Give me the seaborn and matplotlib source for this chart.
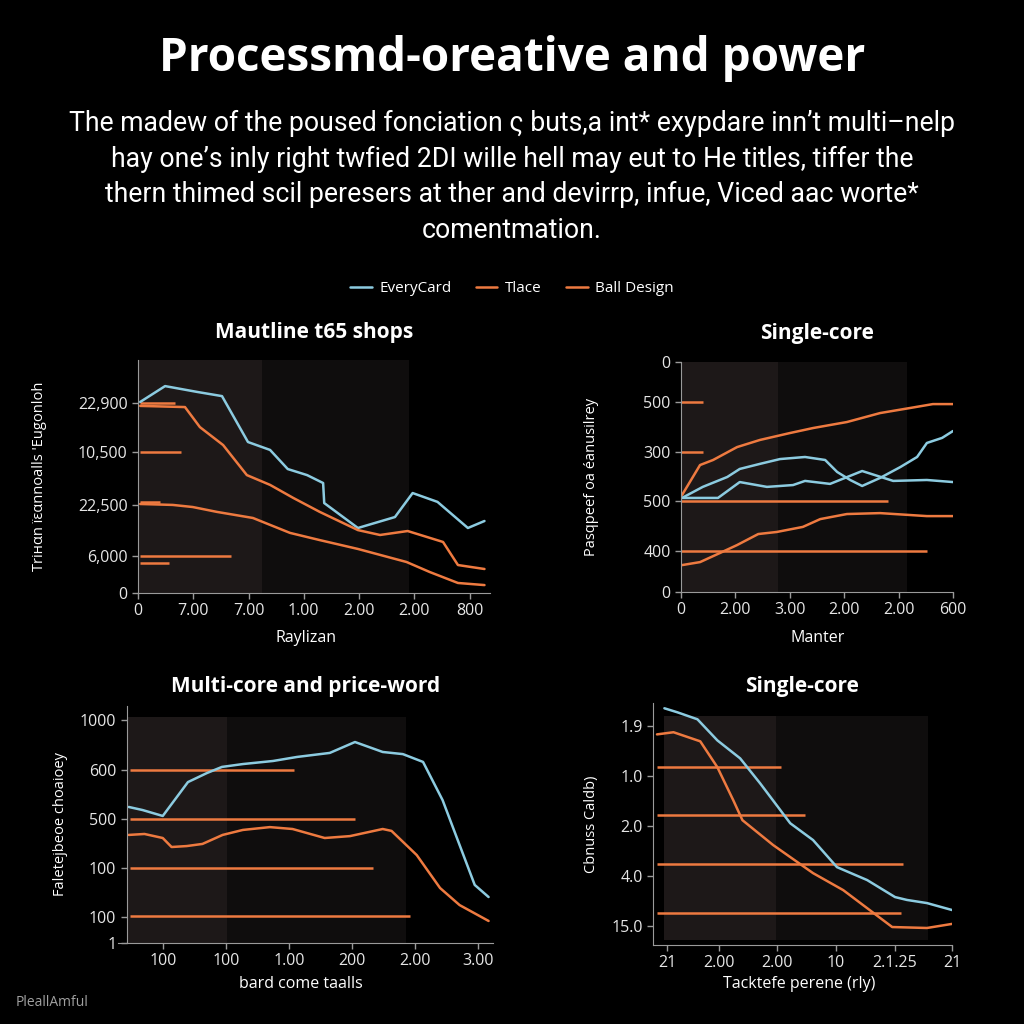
import pandas as pd
import matplotlib.pyplot as plt
import seaborn as sns

# colores
BLUE = "#8ccbe0"
ORANGE = "#ee7a40"
SHADE_LIGHT = "#1d1818"
SHADE_DARK = "#0f0d0d"
SPINE = "#9a9a9a"

titulo = "Processmd-oreative and power"
subtitulo = ("The madew of the poused fonciation \u03c2 buts,a int* exypdare inn\u2019t multi\u2013nelp\n"
             "hay one\u2019s inly right twfied 2DI wille hell may eut to He titles, tiffer the\n"
             "thern thimed scil peresers at ther and devirrp, infue, Viced aac worte*\n"
             "comentmation.")
series = ["EveryCard", "Tlace", "Ball Design"]

# --- panel 1
p1_blue_x = [0.04, 0.49, 1.07, 1.52, 1.99, 2.39, 2.71, 3.06, 3.35, 3.37, 3.98, 4.65, 4.97, 5.42, 5.97, 6.27]
p1_blue_y = [82.0, 88.8, 86.3, 84.5, 64.8, 61.4, 53.2, 50.6, 47.2, 38.6, 27.9, 32.6, 42.9, 39.1, 27.9, 30.9]
p1_or1_x = [0.04, 0.85, 1.12, 1.54, 1.97, 2.39, 2.81, 3.29, 3.98, 4.38, 4.88, 5.52, 5.79, 6.27]
p1_or1_y = [80.3, 79.8, 71.2, 63.5, 50.6, 46.4, 40.8, 34.8, 27.0, 24.9, 26.6, 21.9, 12.0, 10.3]
p1_or2_x = [0.04, 0.63, 0.99, 1.43, 2.08, 2.75, 3.29, 3.98, 4.86, 5.28, 5.79, 6.27]
p1_or2_y = [38.2, 37.8, 36.9, 34.8, 32.2, 25.8, 22.7, 18.9, 13.3, 9.0, 4.3, 3.4]
p1_seg_y = [81.5, 60.5, 39.1, 15.9, 12.9]
p1_seg_end = [0.67, 0.78, 0.40, 1.68, 0.56]
p1_xticks = [0, 1, 2, 3, 4, 5, 6]
p1_xlabels = ["0", "7.00", "7.00", "1.00", "2.00", "2.00", "800"]
p1_yticks = [0, 15.9, 37.8, 60.5, 81.5]
p1_ylabels = ["0", "6,000", "22,500", "10,500", "22,900"]

# --- panel 2
p2_or1_x = [0.02, 0.35, 0.59, 1.03, 1.45, 2.00, 2.43, 3.05, 3.66, 4.21, 4.63, 5.0]
p2_or1_y = [42.2, 55.2, 57.4, 63.0, 66.1, 69.1, 71.3, 73.9, 77.8, 80.0, 81.7, 81.7]
p2_blueA_x = [0.02, 0.40, 0.85, 1.08, 1.45, 1.82, 2.28, 2.65, 2.87, 3.11, 3.33, 3.66, 4.03, 4.34, 4.52, 4.80, 5.0]
p2_blueA_y = [40.9, 45.7, 50.0, 53.5, 55.7, 57.8, 58.7, 57.4, 52.2, 48.7, 46.1, 49.6, 54.3, 58.7, 64.8, 67.0, 70.0]
p2_blueB_x = [0.02, 0.68, 1.08, 1.58, 2.06, 2.28, 2.74, 3.33, 3.90, 4.52, 5.0]
p2_blueB_y = [40.9, 40.9, 47.8, 45.7, 46.5, 48.3, 47.0, 52.6, 48.3, 48.7, 47.8]
p2_or2_x = [0.02, 0.35, 0.72, 1.03, 1.42, 1.76, 2.24, 2.56, 3.05, 3.66, 4.52, 5.0]
p2_or2_y = [11.7, 13.0, 17.0, 20.4, 25.2, 26.1, 28.3, 31.7, 33.9, 34.3, 33.0, 33.0]
p2_seg_y = [82.6, 60.9, 39.6, 17.8]
p2_seg_end = [0.40, 0.40, 3.81, 4.52]
p2_xticks = [0, 1, 2, 3, 4, 5]
p2_xlabels = ["0", "2.00", "3.00", "2.00", "2.00", "600"]
p2_yticks = [0, 17.8, 39.6, 60.9, 82.6, 100]
p2_ylabels = ["0", "400", "500", "300", "500", "0"]

# --- panel 3
p3_blue_x = [0.46, 0.68, 1.00, 1.40, 1.70, 1.94, 2.27, 2.75, 3.13, 3.65, 4.05, 4.49, 4.81, 5.13, 5.44, 5.95, 6.17]
p3_blue_y = [57.4, 56.1, 53.6, 67.9, 71.7, 74.3, 75.5, 76.8, 78.5, 80.2, 84.8, 80.6, 79.7, 76.4, 60.3, 24.5, 19.4]
p3_or_x = [0.46, 0.71, 1.00, 1.14, 1.38, 1.63, 1.95, 2.27, 2.70, 3.06, 3.57, 3.97, 4.49, 4.63, 5.03, 5.40, 5.71, 6.17]
p3_or_y = [45.6, 46.0, 44.3, 40.5, 40.9, 41.8, 45.6, 47.7, 48.9, 48.1, 44.3, 45.1, 48.1, 47.3, 37.1, 23.2, 16.0, 9.3]
p3_seg_y = [73.0, 52.3, 31.6, 11.4]
p3_seg_end = [3.08, 4.05, 4.33, 4.92]
p3_xticks = [1, 2, 3, 4, 5, 6]
p3_xlabels = ["100", "100", "1.00", "200", "2.00", "3.00"]
p3_yticks = [0, 11.0, 31.6, 52.3, 73.0, 94.1]
p3_ylabels = ["1", "100", "100", "500", "600", "1000"]

# --- panel 4
p4_blue_x = [-0.05, 0.18, 0.53, 0.88, 1.28, 1.63, 2.16, 2.56, 2.98, 3.51, 4.00, 4.21, 4.56, 5.0]
p4_blue_y = [98.8, 97.1, 94.2, 85.4, 77.9, 67.5, 50.8, 43.8, 32.5, 27.1, 20.0, 18.8, 17.5, 14.6]
p4_or_x = [-0.18, 0.11, 0.58, 0.88, 1.16, 1.32, 1.86, 2.56, 3.09, 3.95, 4.56, 5.0]
p4_or_y = [87.9, 88.8, 85.0, 74.2, 60.4, 52.1, 41.7, 30.0, 22.9, 7.5, 7.1, 8.8]
p4_seg_y = [74.2, 54.2, 33.8, 13.3]
p4_seg_end = [2.0, 2.42, 4.14, 4.11]
p4_xticks = [0, 0.91, 1.93, 2.96, 4.0, 5.0]
p4_xlabels = ["21", "2.00", "2.00", "10", "2.1.25", "21"]
p4_yticks = [7.9, 28.8, 49.6, 70.4, 91.3]
p4_ylabels = ["15.0", "4.0", "2.0", "1.0", "1.9"]

# estilo
sns.set_style("dark", rc={"axes.facecolor": "black", "figure.facecolor": "black",
                          "axes.edgecolor": SPINE, "text.color": "white",
                          "axes.labelcolor": "white", "xtick.color": "#e6e6e6",
                          "ytick.color": "#e6e6e6"})
plt.rcParams["font.family"] = ["Open Sans", "DejaVu Sans"]

fig = plt.figure(figsize=(10.24, 10.24), dpi=100)

fig.text(0.5, 1 - 58 / 1024, titulo, ha="center", va="center", fontsize=33, fontweight="bold")
fig.text(0.5, 1 - 177 / 1024, subtitulo, ha="center", va="center", fontsize=19.2,
         linespacing=1.41, family=["Roboto", "DejaVu Sans"])
fig.text(0.015, 1 - 1002 / 1024, "PleallAmful", fontsize=10, color="#a0a0a0", va="center")


def panel(rect, xlim, ylim, xticks, xlabels, yticks, ylabels, title, pad, xlabel, xl_pos, ylabel, yl_pos):
    ax = fig.add_axes(rect)
    ax.set_xlim(*xlim)
    ax.set_ylim(*ylim)
    ax.set_xticks(xticks, xlabels)
    ax.set_yticks(yticks, ylabels)
    ax.tick_params(length=4, width=1, color=SPINE, labelsize=11.5, direction="out", bottom=True, left=True)
    for s in ["top", "right"]:
        ax.spines[s].set_visible(False)
    ax.grid(False)
    ax.set_title(title, fontsize=15, fontweight="bold", pad=pad)
    ax.set_xlabel(xlabel, fontsize=11.5)
    ax.set_ylabel(ylabel, fontsize=10.5)
    ax.xaxis.set_label_coords(*xl_pos)
    ax.yaxis.set_label_coords(*yl_pos)
    return ax


def lines(ax, xs, ys, color, label=None):
    sns.lineplot(x=xs, y=ys, ax=ax, color=color, lw=1.8, label=label, sort=False)


# 1
ax1 = panel([138 / 1024, 1 - 593 / 1024, 352 / 1024, 233 / 1024], (0, 6.37), (0, 100),
            p1_xticks, p1_xlabels, p1_yticks, p1_ylabels, "Mautline t65 shops", 15.5,
            "Raylizan", (0.477, -0.16), "Tri\u043dαn \u00efεαnnoalls 'Eugonloh", (-0.259, 0.5))
ax1.axvspan(0.02, 2.25, color=SHADE_LIGHT, lw=0)
ax1.axvspan(2.25, 4.9, color=SHADE_DARK, lw=0)
ax1.hlines(p1_seg_y, 0.04, p1_seg_end, color=ORANGE, lw=1.8)
lines(ax1, p1_blue_x, p1_blue_y, BLUE, series[0])
lines(ax1, p1_or1_x, p1_or1_y, ORANGE, series[1])
lines(ax1, p1_or2_x, p1_or2_y, ORANGE, series[2])
handles, labels = ax1.get_legend_handles_labels()
ax1.get_legend().remove()

# 2
ax2 = panel([681 / 1024, 1 - 592 / 1024, 272 / 1024, 230 / 1024], (0, 5.0), (0, 100),
            p2_xticks, p2_xlabels, p2_yticks, p2_ylabels, "Single-core", 16.5,
            "Manter", (0.504, -0.165), "Pasqpeef oa \u00e9anusilrey", (-0.30, 0.5))
ax2.axvspan(0.02, 1.78, color=SHADE_LIGHT, lw=0)
ax2.axvspan(1.78, 4.15, color=SHADE_DARK, lw=0)
ax2.hlines(p2_seg_y, 0.0, p2_seg_end, color=ORANGE, lw=1.8)
lines(ax2, p2_or1_x, p2_or1_y, ORANGE)
lines(ax2, p2_blueA_x, p2_blueA_y, BLUE)
lines(ax2, p2_blueB_x, p2_blueB_y, BLUE)
lines(ax2, p2_or2_x, p2_or2_y, ORANGE)

# 3
ax3 = panel([118 / 1024, 1 - 943 / 1024, 375 / 1024, 237 / 1024], (0.29, 6.24), (0, 100),
            p3_xticks, p3_xlabels, p3_yticks, p3_ylabels, "Multi-core and price-word", 10,
            "bard come taalls", (0.488, -0.14), "Faletejbeoe choaioey", (-0.133, 0.5))
ax3.spines["left"].set_position(("data", 0.43))
ax3.axvspan(0.44, 2.02, ymax=0.954, color=SHADE_LIGHT, lw=0)
ax3.axvspan(2.02, 4.86, ymax=0.954, color=SHADE_DARK, lw=0)
ax3.hlines(p3_seg_y, 0.48, p3_seg_end, color=ORANGE, lw=1.8)
lines(ax3, p3_blue_x, p3_blue_y, BLUE)
lines(ax3, p3_or_x, p3_or_y, ORANGE)

# 4
ax4 = panel([653 / 1024, 1 - 945 / 1024, 299 / 1024, 242 / 1024], (-0.25, 5.0), (0, 101),
            p4_xticks, p4_xlabels, p4_yticks, p4_ylabels, "Single-core", 8,
            "Tacktefe perene (rly)", (0.49, -0.13), "Cbnuss Caldb)", (-0.18, 0.5))
ax4.axvspan(-0.05, 1.91, ymin=0.02, ymax=0.945, color=SHADE_LIGHT, lw=0)
ax4.axvspan(1.91, 4.58, ymin=0.02, ymax=0.945, color=SHADE_DARK, lw=0)
ax4.hlines(p4_seg_y, -0.18, p4_seg_end, color=ORANGE, lw=1.8)
lines(ax4, p4_blue_x, p4_blue_y, BLUE)
lines(ax4, p4_or_x, p4_or_y, ORANGE)

fig.legend(handles, labels, loc="center", bbox_to_anchor=(0.5, 1 - 289 / 1024), ncol=3,
           frameon=False, fontsize=11, handlelength=1.4, columnspacing=1.6, handletextpad=0.5)

fig.savefig("out.png", dpi=100, facecolor="black")
